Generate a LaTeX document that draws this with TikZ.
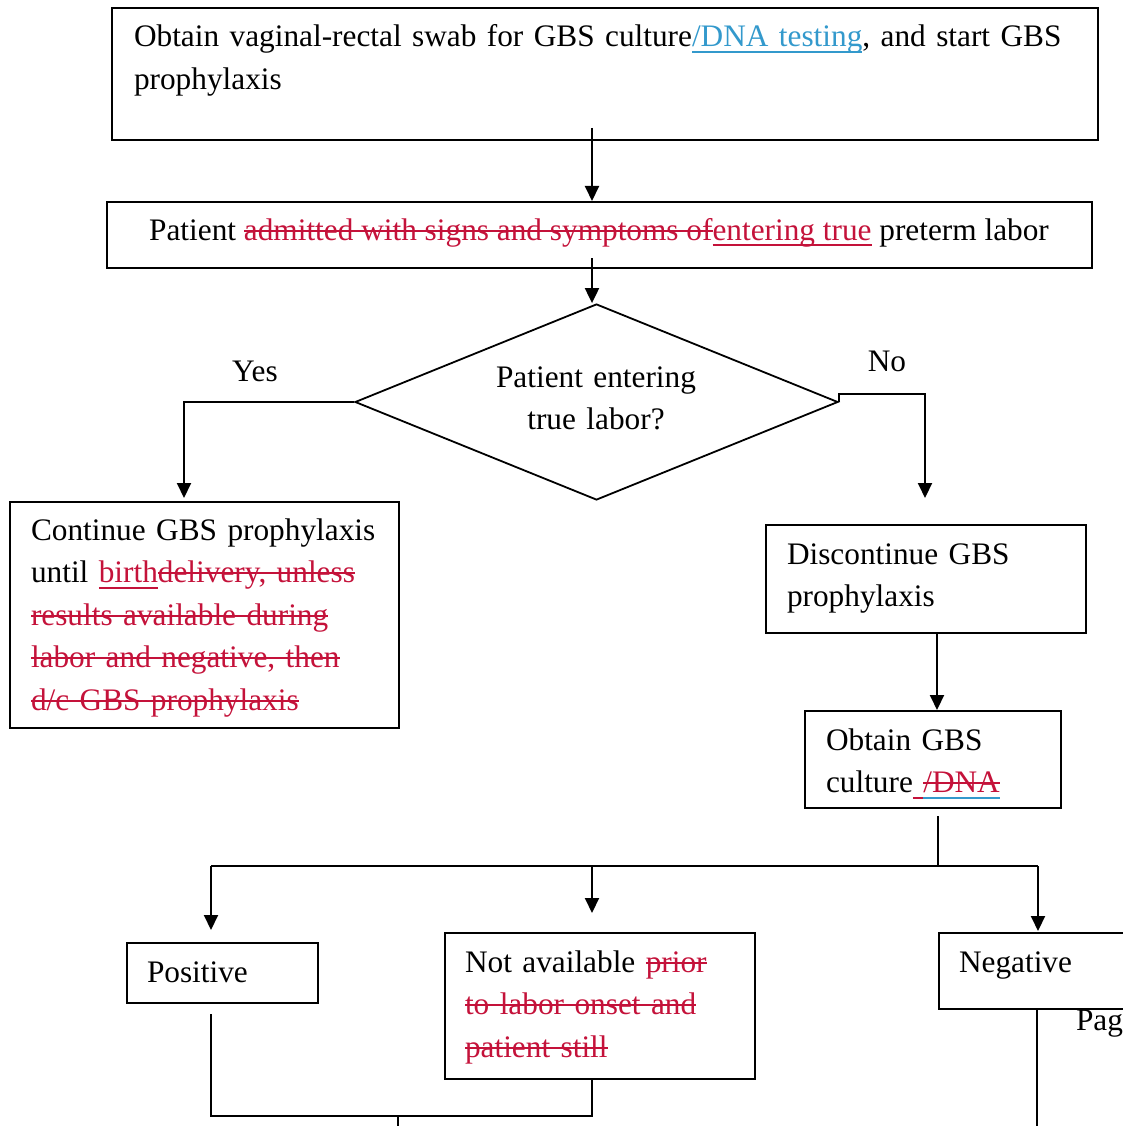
\documentclass[tikz,border=0pt]{standalone}
\usepackage{fontspec}
\setmainfont{Liberation Serif}
\usetikzlibrary{arrows.meta,shapes.geometric}
\definecolor{trk}{RGB}{196,18,58}
\definecolor{lnk}{RGB}{51,153,204}
\newcommand\delr[1]{\textcolor{trk}{\setbox0\hbox{#1}\rlap{\rule[0.27em]{\wd0}{1.8pt}}\box0}}
\newcommand\insr[1]{\textcolor{trk}{\setbox0\hbox{#1}\rlap{\rule[-0.2em]{\wd0}{1.8pt}}\box0}}
\newcommand\lnkb[1]{\textcolor{lnk}{\setbox0\hbox{#1}\rlap{\rule[-0.2em]{\wd0}{1.8pt}}\box0}}
\newcommand\dellnk[1]{\textcolor{trk}{\setbox0\hbox{#1}\rlap{\rule[0.27em]{\wd0}{1.8pt}}\rlap{\textcolor{lnk}{\rule[-0.2em]{\wd0}{1.8pt}}}\box0}}
\begin{document}
\begin{tikzpicture}[x=1pt,y=-1pt,
  line width=2pt,
  box/.style={draw,rectangle,inner sep=0pt,anchor=north west,line width=1.8pt},
  txt/.style={inner sep=0pt,align=left,anchor=base west,font=\fontsize{31.3}{42.5}\selectfont},
  lbl/.style={inner sep=0pt,anchor=base,font=\fontsize{31.3}{42.5}\selectfont},
  arr/.style={-{Triangle[length=15pt,width=14pt]}}]
\useasboundingbox (0,0) rectangle (1123,1126);
\clip (0,0) rectangle (1123,1126);
% boxes
\node[box,minimum width=986,minimum height=132] (b1) at (111,7) {};
\node[txt,text width=975] (t1) at (133,47) {Obtain vaginal-rectal swab for GBS culture\lnkb{/DNA testing}, and start GBS\\prophylaxis};
\node[box,minimum width=985,minimum height=66] (b2) at (106,201) {};
\node[lbl] (t2) at (599,240) {Patient \delr{admitted with signs and symptoms of}\insr{entering true} preterm labor};
\node[draw,diamond,inner sep=0pt,minimum width=483,minimum height=196,line width=1.8pt] (d) at (596.5,402) {};
\node[lbl,align=center,text width=320] (td) at (596,387) {Patient entering\\true labor?};
\node[box,minimum width=389,minimum height=226] (b3) at (9,501) {};
\node[txt,text width=385] (t3) at (30,540) {Continue GBS prophylaxis\\until \insr{birth}\delr{delivery, unless}\\\delr{results available during}\\\delr{labor and negative, then}\\\delr{d/c GBS prophylaxis}};
\node[box,minimum width=320,minimum height=108] (b4) at (765,524) {};
\node[txt,text width=300] (t4) at (786,564) {Discontinue GBS\\prophylaxis};
\node[box,minimum width=256,minimum height=97] (b5) at (804,710) {};
\node[txt,text width=240] (t5) at (825,750) {Obtain GBS\\culture\insr{\ }\dellnk{/DNA}};
\node[box,minimum width=191,minimum height=60] (b6) at (126,942) {};
\node[txt,text width=170] (t6) at (146,982) {Positive};
\node[box,minimum width=310,minimum height=146] (b7) at (444,932) {};
\node[txt,text width=290] (t7) at (464,972) {Not available \delr{prior}\\\delr{to labor onset and}\\\delr{patient still}};
\node[box,minimum width=260,minimum height=76] (b8) at (938,932) {};
\node[txt,text width=170] (t8) at (958,972) {Negative};
\node[txt,text width=100] (pg) at (1075,1030) {Pag};
\node[lbl] (yes) at (255,381) {Yes};
\node[lbl] (no) at (887,371) {No};
% connectors
\coordinate (c1) at (592,128);
\draw[arr] (c1) -- (c1 |- b2.north);
\coordinate (c2) at (592,258);
\draw[arr] (c2) -- (c2 |- d.north);
\coordinate (yc) at (184,498);
\draw[arr] (d.west) -- (yc |- d.west) -- (yc);
\coordinate (nc) at (925,498);
\coordinate (nl) at (0,394);
\draw[arr] (d.east) -- (d.east |- nl) -- (nc |- nl) -- (nc);
\coordinate (c4) at (937,632);
\draw[arr] (c4) -- (c4 |- b5.north);
\coordinate (c5) at (938,816);
\coordinate (h) at (938,866);
\draw (c5) -- (h);
\coordinate (hl) at (211,866);
\coordinate (hm) at (592,866);
\coordinate (hr) at (1038,866);
\draw (hl) -- (hr);
\draw[arr] (hl) -- (211,930);
\draw[arr] (hm) -- (592,913);
\draw[arr] (hr) -- (1038,931);
\coordinate (p1) at (211,1014);
\coordinate (p2) at (211,1116);
\coordinate (p3) at (592,1116);
\draw (p1) -- (p2) -- (p3) -- (p3 |- b7.south);
\coordinate (p4) at (398,1116);
\draw (p4) -- (398,1130);
\coordinate (p5) at (1037,1008);
\draw (p5) -- (1037,1130);
\end{tikzpicture}
\end{document}
